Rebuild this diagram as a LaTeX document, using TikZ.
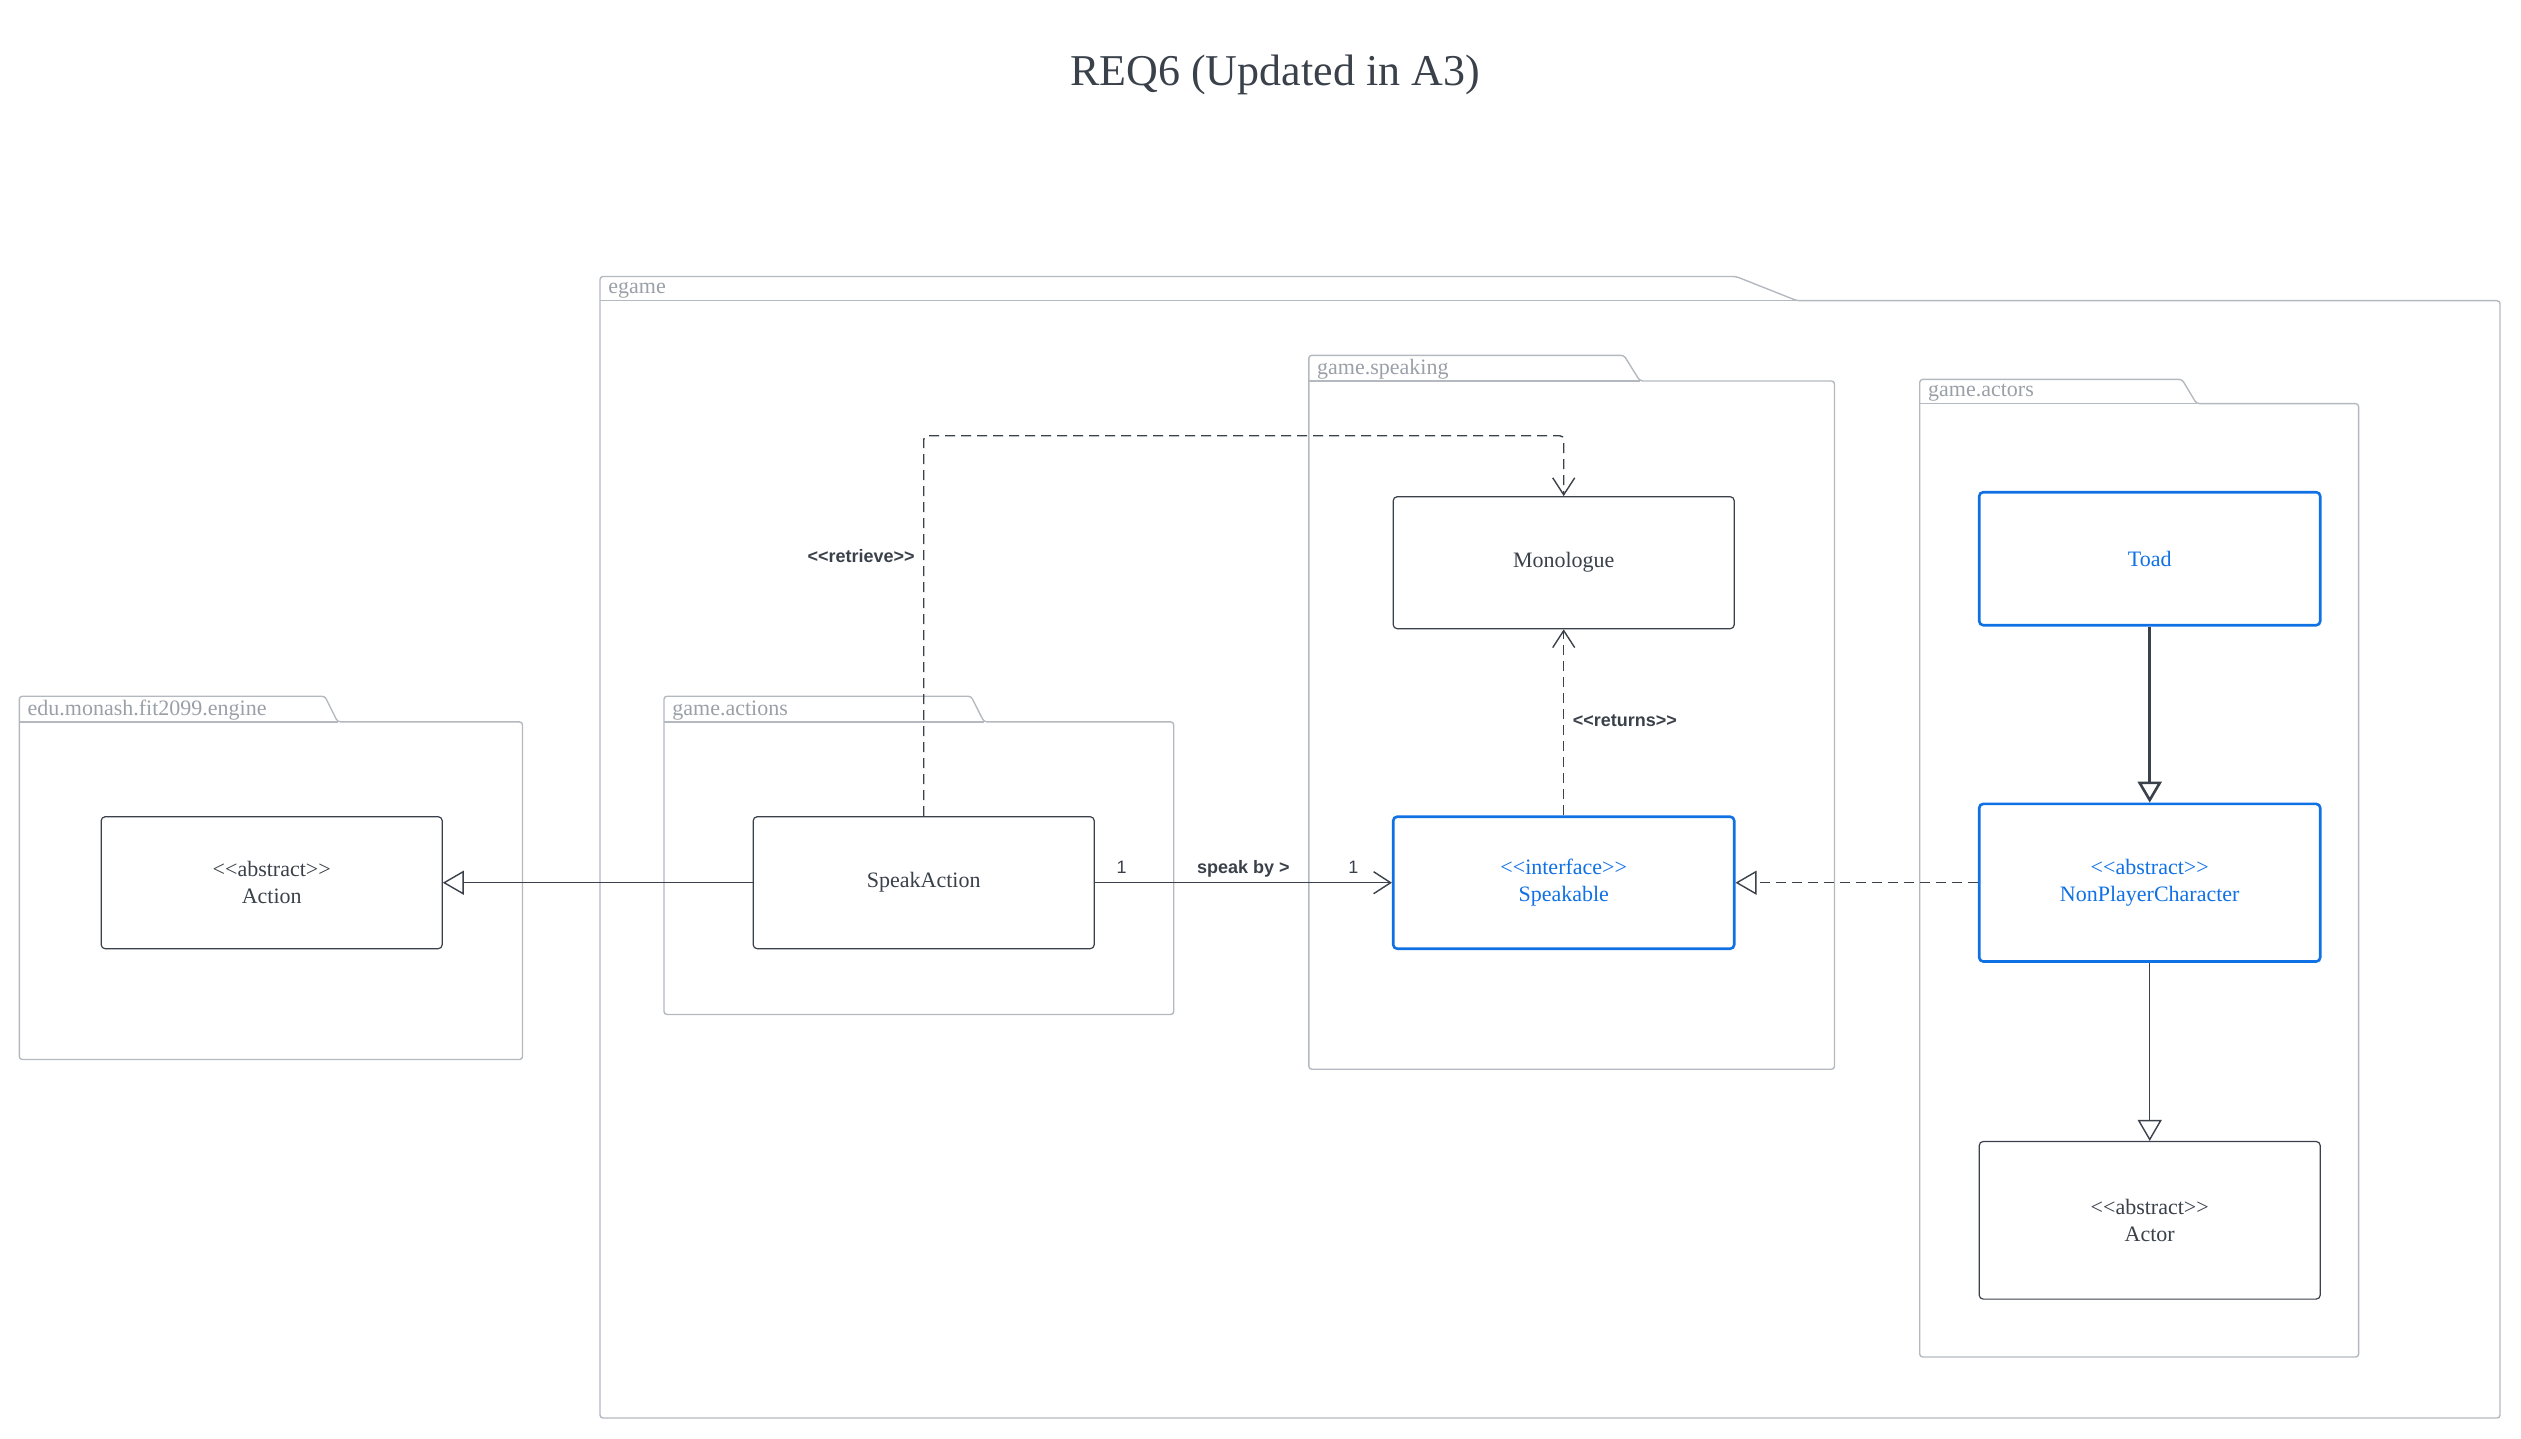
\documentclass[tikz,border=0pt]{standalone}
\usepackage{fontspec}
\setmainfont{Liberation Serif}
\setsansfont{Liberation Sans}
\usetikzlibrary{arrows.meta,positioning}
\definecolor{lucidblue}{HTML}{1071E5}
\definecolor{inkgray}{HTML}{3A414A}
\definecolor{pkggray}{HTML}{B4B9C0}
\definecolor{pkgtext}{HTML}{9AA0A8}
\tikzstyle{title} = [anchor=base, text=inkgray, font=\fontsize{22}{26}\selectfont]
\tikzstyle{classbox} = [rectangle, draw=inkgray, fill=white, line width=0.6pt,
    rounded corners=2pt, text=inkgray, align=center, minimum width=170.5pt,
    minimum height=66pt, font=\fontsize{11}{13.7}\selectfont]
\tikzstyle{blueclass} = [classbox, draw=lucidblue, text=lucidblue, line width=1.3pt]
\tikzstyle{pkg} = [draw=pkggray, line width=0.7pt, rounded corners=1.5pt]
\tikzstyle{pkglabel} = [anchor=west, text=pkgtext, inner sep=0pt,
    font=\fontsize{11}{13}\selectfont]
\tikzstyle{line} = [draw=inkgray, line width=0.7pt]
\tikzstyle{inherit} = [line, -{Triangle[open, length=10.5pt, width=12pt]}]
\tikzstyle{assoc} = [line, -{Straight Barb[length=8.5pt, width=11pt]}]
\tikzstyle{depend} = [assoc, dash pattern=on 5pt off 3pt]
\tikzstyle{realize} = [inherit, dash pattern=on 5pt off 3pt]
\tikzstyle{deplabel} = [text=inkgray, inner sep=0pt,
    font=\sffamily\bfseries\fontsize{9}{11}\selectfont]
\tikzstyle{mult} = [anchor=base, yshift=4.8pt, inner sep=0pt, text=inkgray,
    font=\sffamily\fontsize{9}{11}\selectfont]
\newcommand{\stereo}[1]{<{}<#1>{}>}
\newcommand{\pkgfolder}[9]{%
  \draw [pkg] (#1,#5) -- (#1,#2) -- (#3,#2) -- (#4,#5) -- (#6,#5) -- (#6,#7) -- (#1,#7) -- cycle;
  \draw [pkg] (#1,#5) -- (#4,#5);
  \node [pkglabel] (#9) at ({#1+8},{(#2+#5)/2+1.5}) {#8};}

\begin{document}
\begin{tikzpicture}[x=0.5pt, y=-0.5pt]
    \useasboundingbox (0,0) rectangle (2521,1439);
    \node [title] (title) at (1275,86) {REQ6 (Updated in A3)};
    % Place packages
    \pkgfolder{600}{276.5}{1736}{1797}{300.7}{2500}{1418}{egame}{egamepkg}
    \pkgfolder{1308.8}{355.3}{1623.9}{1639.9}{381}{1834.5}{1069.2}{game.speaking}{speakingpkg}
    \pkgfolder{1919.7}{379.4}{2182}{2196.5}{403.6}{2358.6}{1357}{game.actors}{actorspkg}
    \pkgfolder{19.3}{696.2}{324.8}{337.6}{721.9}{522.5}{1059.5}{edu.monash.fit2099.engine}{enginepkg}
    \pkgfolder{664}{696.2}{971}{984}{721.9}{1173.7}{1014.5}{game.actions}{actionspkg}
    % Place nodes
    \node [classbox] (action) at (271.7,882.7) {\stereo{abstract}\\Action};
    \node [classbox, right of=action, node distance=326pt] (speakaction) {SpeakAction};
    \node [blueclass, right of=speakaction, node distance=320pt] (speakable) {\stereo{interface}\\Speakable};
    \node [classbox, above of=speakable, node distance=160pt] (monologue) {Monologue};
    \node [blueclass, right of=speakable, node distance=293pt, minimum height=78.8pt] (npc) {\stereo{abstract}\\NonPlayerCharacter};
    \node [blueclass, above of=npc, node distance=162pt, minimum height=66.5pt] (toad) {Toad};
    \node [classbox, below of=npc, node distance=168.8pt, minimum height=78.8pt] (actor) {\stereo{abstract}\\Actor};
    \coordinate (retrievebend) at (1000,435.7);
    % Draw edges
    \path [inherit] (speakaction) -- (action);
    \path [assoc] (speakaction) -- node [mult, pos=0.09] (multfrom) {1}
        node [mult, pos=0.5, font=\sffamily\bfseries\fontsize{9}{11}\selectfont] (speakby) {speak by >}
        node [mult, pos=0.87] (multto) {1} (speakable);
    \path [depend, rounded corners=2pt] (speakaction.north) |- (monologue.north |- retrievebend) -- (monologue.north);
    \path [depend] (speakable) -- (monologue);
    \path [realize] (npc) -- (speakable);
    \path [inherit, line width=1.3pt] (toad) -- (npc);
    \path [inherit] (npc) -- (actor);
    \node [deplabel, anchor=east] (retrievelabel) at (915,556.3) {\stereo{retrieve}};
    \node [deplabel, anchor=west] (returnslabel) at (1572.4,720.3) {\stereo{returns}};
\end{tikzpicture}
\end{document}
